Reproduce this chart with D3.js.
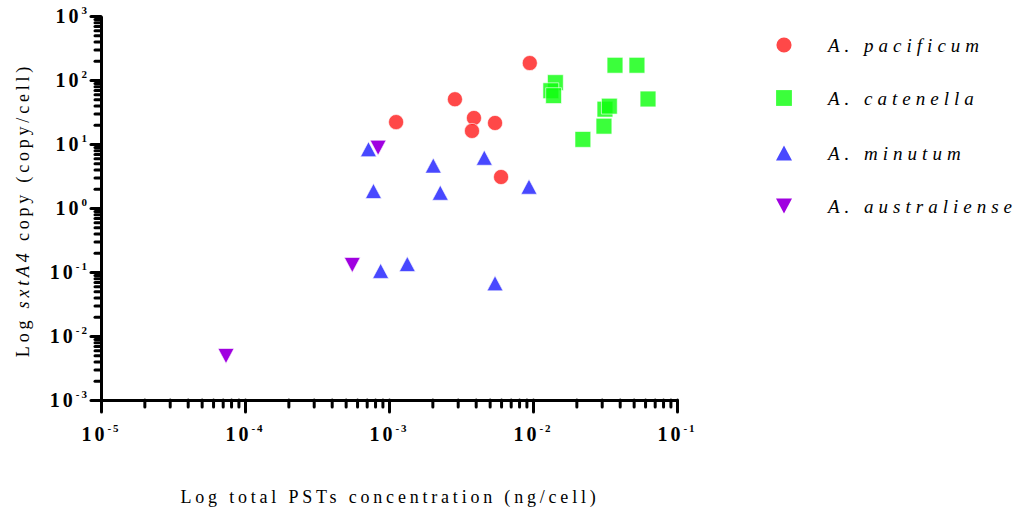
<!DOCTYPE html>
<html>
<head>
<meta charset="utf-8">
<script src="https://cdn.jsdelivr.net/npm/d3@7"></script>
<style>
  body { margin: 0; background: #fff; }
  svg text { font-family: 'Liberation Serif', 'DejaVu Serif', serif; }
</style>
</head>
<body>
<div id="chart"></div>
<script>
// series names and values (x = total PSTs ng/cell, y = sxtA4 copy/cell)
const speciesNames = ["A. pacificum", "A. catenella", "A. minutum", "A. australiense"];

const pacificumX = [0.00112, 0.00287, 0.00389, 0.00377, 0.00545, 0.0060, 0.0095];
const pacificumY = [22, 50, 25.5, 16, 21.3, 3.05, 184];

const catenellaX = [0.0143, 0.0133, 0.0139, 0.0371, 0.0527, 0.0629, 0.0316, 0.0339, 0.0311, 0.0222];
const catenellaY = [91, 68, 57, 170, 170, 50.5, 35, 39, 19, 11.8];

const minutumX = [0.00072, 0.00078, 0.00203, 0.00227, 0.00459, 0.00938, 0.000875, 0.00134, 0.00545];
const minutumY = [8.3, 1.84, 4.6, 1.73, 6.1, 2.15, 0.104, 0.133, 0.0665];

const australienseX = [0.00084, 0.000556, 0.0000738];
const australienseY = [8.75, 0.129, 0.00487];

const xMajorTicks = [1e-5, 1e-4, 1e-3, 1e-2, 1e-1];
const yMajorTicks = [1e-3, 1e-2, 1e-1, 1e0, 1e1, 1e2, 1e3];

const width = 1032;
const height = 512;
const serif = "Liberation Serif";

const svg = d3
  .select("#chart")
  .append("svg")
  .attr("width", width)
  .attr("height", height);

const x = d3.scaleLog().domain([1e-5, 1e-1]).range([101, 677]);
const y = d3.scaleLog().domain([1e-3, 1e3]).range([400, 16]);

// minor ticks 1..9 per decade
function allTicks(majors) {
  const out = [];
  majors.forEach((m, i) => {
    if (i === majors.length - 1) {
      out.push(m);
      return;
    }
    for (let k = 1; k <= 9; k++) out.push(m * k);
  });
  return out;
}

function isMajor(v) {
  const l = Math.log10(v);
  return Math.abs(l - Math.round(l)) < 1e-6;
}

// ------
// X AXIS
// ------
const xAxis = svg
  .append("g")
  .attr("transform", "translate(0,400)")
  .call(d3.axisBottom(x).tickValues(allTicks(xMajorTicks)).tickFormat("").tickSizeOuter(0));

xAxis.select(".domain").attr("stroke-width", 3).attr("stroke", "#000");
xAxis
  .selectAll(".tick line")
  .attr("stroke-width", 3)
  .attr("stroke-linecap", "round")
  .attr("y2", (d) => (isMajor(d) ? 12 : 7));

// ------
// Y AXIS
// ------
const yAxis = svg
  .append("g")
  .attr("transform", "translate(101,0)")
  .call(d3.axisLeft(y).tickValues(allTicks(yMajorTicks)).tickFormat("").tickSizeOuter(0));

yAxis.select(".domain").attr("stroke-width", 3).attr("stroke", "#000");
yAxis
  .selectAll(".tick line")
  .attr("stroke-width", 3)
  .attr("stroke-linecap", "round")
  .attr("x2", (d) => (isMajor(d) ? -10 : -6));

// tick labels "10" with superscript exponent
function powerLabel(sel, v) {
  const e = Math.round(Math.log10(v));
  sel
    .append("tspan")
    .attr("font-weight", "bold")
    .attr("font-size", 20)
    .attr("letter-spacing", 3)
    .text("10");
  sel
    .append("tspan")
    .attr("font-weight", "bold")
    .attr("font-size", 11)
    .attr("dy", -9)
    .attr("letter-spacing", 2)
    .text(e);
}

xMajorTicks.forEach((v) => {
  const t = svg
    .append("text")
    .attr("font-family", serif)
    .attr("x", x(v))
    .attr("y", 441)
    .attr("text-anchor", "middle");
  powerLabel(t, v);
});

yMajorTicks.forEach((v) => {
  const t = svg
    .append("text")
    .attr("font-family", serif)
    .attr("x", 89)
    .attr("y", y(v) + 7)
    .attr("text-anchor", "end");
  powerLabel(t, v);
});

// -----------
// AXIS TITLES
// -----------
svg
  .append("text")
  .attr("font-family", serif)
  .attr("x", 390)
  .attr("y", 503)
  .attr("text-anchor", "middle")
  .attr("font-size", 18)
  .attr("letter-spacing", 3.8)
  .text("Log total PSTs concentration (ng/cell)");

const yTitle = svg
  .append("text")
  .attr("font-family", serif)
  .attr("transform", "translate(29,210) rotate(-90)")
  .attr("text-anchor", "middle")
  .attr("font-size", 18)
  .attr("letter-spacing", 3.8);
yTitle.append("tspan").text("Log ");
yTitle.append("tspan").attr("font-style", "italic").text("sxtA4");
yTitle.append("tspan").text(" copy (copy/cell)");

// -------
// SYMBOLS
// -------
const triUp = {
  draw(ctx, size) {
    ctx.moveTo(0, -7.5);
    ctx.lineTo(8, 7.5);
    ctx.lineTo(-8, 7.5);
    ctx.closePath();
  },
};
const triDown = {
  draw(ctx, size) {
    ctx.moveTo(0, 7.5);
    ctx.lineTo(8, -7.5);
    ctx.lineTo(-8, -7.5);
    ctx.closePath();
  },
};

const seriesList = [
  { name: speciesNames[0], xs: pacificumX, ys: pacificumY, color: "#ff2020", type: d3.symbolCircle, size: 180 },
  { name: speciesNames[1], xs: catenellaX, ys: catenellaY, color: "#10ff10", type: d3.symbolSquare, size: 250 },
  { name: speciesNames[2], xs: minutumX, ys: minutumY, color: "#2020ff", type: triUp, size: 100 },
  { name: speciesNames[3], xs: australienseX, ys: australienseY, color: "#a000e0", type: triDown, size: 100 },
];

seriesList.forEach((s) => {
  const pts = s.xs.map((v, i) => ({ x: v, y: s.ys[i] }));
  svg
    .append("g")
    .selectAll("path")
    .data(pts)
    .enter()
    .append("path")
    .attr("d", d3.symbol().type(s.type).size(s.size))
    .attr("transform", (d) => `translate(${x(d.x)},${y(d.y)})`)
    .attr("fill", s.color)
    .attr("fill-opacity", s.name === "A. australiense" ? 1 : 0.82)
    .attr("stroke", "#fff")
    .attr("stroke-opacity", 0.6)
    .attr("stroke-width", 1);
});

// ------
// LEGEND
// ------
const legendY = [45, 98, 153, 206];
const legend = svg
  .append("g")
  .selectAll("g")
  .data(seriesList)
  .enter()
  .append("g")
  .attr("transform", (d, i) => `translate(0,${legendY[i]})`);

legend
  .append("path")
  .attr("d", (d) => d3.symbol().type(d.type).size(d.size)())
  .attr("transform", "translate(784,0)")
  .attr("fill", (d) => d.color)
  .attr("fill-opacity", (d) => (d.name === "A. australiense" ? 1 : 0.82));

legend
  .append("text")
  .attr("font-family", serif)
  .attr("x", 828)
  .attr("y", 7)
  .attr("font-size", 19)
  .attr("font-style", "italic")
  .attr("letter-spacing", 5)
  .text((d) => d.name);
</script>
</body>
</html>
